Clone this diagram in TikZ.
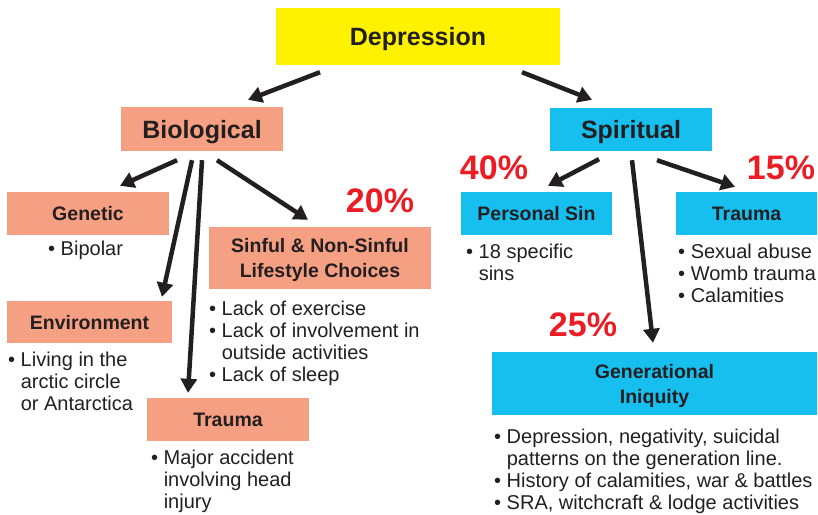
\documentclass[tikz,border=0pt]{standalone}
\usepackage{fontspec}
\setmainfont{Liberation Sans}
\usetikzlibrary{arrows.meta}
\definecolor{depyellow}{HTML}{FFF200}
\definecolor{bioorange}{HTML}{F5A083}
\definecolor{spiblue}{HTML}{17BFEF}
\definecolor{pctred}{HTML}{EC1C24}
\definecolor{inkgray}{HTML}{231F20}
\newcommand{\cont}{\phantom{\textbullet\ }}

\begin{document}
\begin{tikzpicture}[x=1pt, y=-1pt, >={Triangle[length=14pt,width=16pt]},
    every node/.style={text=inkgray},
    topbox/.style={fill=#1, inner sep=0pt, text depth=0pt, font=\fontsize{25}{28}\selectfont\bfseries},
    subbox/.style={fill=#1, inner sep=0pt, text depth=0pt, align=center, font=\fontsize{19.5}{25}\selectfont\bfseries},
    pct/.style={text=pctred, inner sep=0pt, font=\fontsize{34}{36}\selectfont\bfseries},
    bullets/.style={anchor=north west, inner sep=0pt, align=left, font=\fontsize{20}{22}\selectfont},
    arr/.style={->, line width=4.5pt, draw=inkgray}]
    \useasboundingbox (0,0) rectangle (818,514);

    \node[topbox=depyellow, minimum width=284pt, minimum height=57pt] (dep) at (418,36.5) {Depression};
    \node[topbox=bioorange, minimum width=162pt, minimum height=44pt] (bio) at (202,129) {Biological};
    \node[topbox=spiblue, minimum width=162pt, minimum height=43pt] (spi) at (631,129.5) {Spiritual};

    \node[subbox=bioorange, minimum width=162pt, minimum height=43pt] (gen) at (88,213.5) {Genetic};
    \node[subbox=bioorange, minimum width=165pt, minimum height=42pt] (env) at (89.5,322) {Environment};
    \node[subbox=bioorange, minimum width=162pt, minimum height=43pt] (btra) at (228,419.5) {Trauma};
    \node[subbox=bioorange, minimum width=222pt, minimum height=62pt] (life) at (320,258) {Sinful \& Non-Sinful\\Lifestyle Choices};
    \node[subbox=spiblue, minimum width=151pt, minimum height=43pt] (psin) at (536.5,213.5) {Personal Sin};
    \node[subbox=spiblue, minimum width=141pt, minimum height=43pt] (stra) at (746.5,213.5) {Trauma};
    \node[subbox=spiblue, minimum width=325pt, minimum height=63pt] (geni) at (654.5,383.5) {Generational\\Iniquity};

    \node[pct] (p20) at (380,201) {20\%};
    \node[pct] (p40) at (494,168) {40\%};
    \node[pct] (p15) at (781,168) {15\%};
    \node[pct] (p25) at (583,325) {25\%};

    \node[bullets] (genlist) at (48,241) {\textbullet\ Bipolar};
    \node[bullets] (envlist) at (8,352) {\textbullet\ Living in the\\\cont arctic circle\\\cont or Antarctica};
    \node[bullets] (btralist) at (151,450) {\textbullet\ Major accident\\\cont involving head\\\cont injury};
    \node[bullets] (lifelist) at (209,301) {\textbullet\ Lack of exercise\\\textbullet\ Lack of involvement in\\\cont outside activities\\\textbullet\ Lack of sleep};
    \node[bullets] (psinlist) at (466,244) {\textbullet\ 18 specific\\\cont sins};
    \node[bullets] (stralist) at (678,244) {\textbullet\ Sexual abuse\\\textbullet\ Womb trauma\\\textbullet\ Calamities};
    \node[bullets] (genilist) at (494,429) {\textbullet\ Depression, negativity, suicidal\\\cont patterns on the generation line.\\\textbullet\ History of calamities, war \& battles\\\textbullet\ SRA, witchcraft \& lodge activities};

    \draw[arr] ([shift={(-98,7)}]dep.south) -- ([shift={(46,-7)}]bio.north);
    \draw[arr] ([shift={(104,7)}]dep.south) -- ([shift={(-39,-8)}]spi.north);

    \draw[arr] ([shift={(-25,9)}]bio.south) -- ([shift={(32,-6)}]gen.north);
    \draw[arr] ([shift={(-10,9)}]bio.south) -- ([shift={(72.5,-4)}]env.north);
    \draw[arr] ([shift={(0,9)}]bio.south) -- ([shift={(-40,-5)}]btra.north);
    \draw[arr] ([shift={(15,9)}]bio.south) -- ([shift={(-12,-7)}]life.north);

    \draw[arr] ([shift={(-32,8)}]spi.south) -- ([shift={(11.5,-6)}]psin.north);
    \draw[arr] ([shift={(1,9)}]spi.south) -- ([shift={(-1.5,-9)}]geni.north);
    \draw[arr] ([shift={(26,9)}]spi.south) -- ([shift={(-11.5,-5)}]stra.north);
\end{tikzpicture}
\end{document}
